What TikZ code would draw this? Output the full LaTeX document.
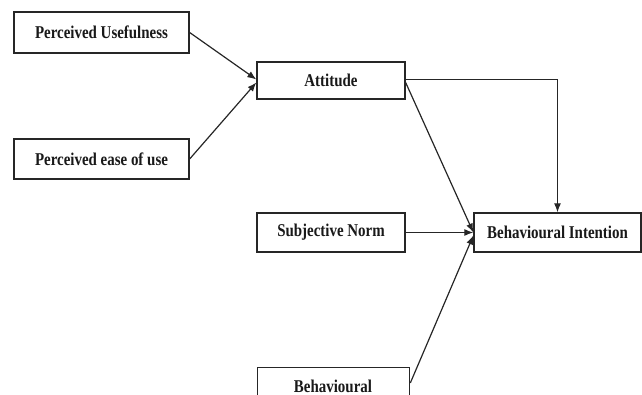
\documentclass[tikz,border=0pt]{standalone}
\usepackage{fontspec}
\setmainfont{Liberation Serif}[FakeStretch=0.83]
\usetikzlibrary{arrows.meta,calc}
\tikzset{
  box/.style={draw=black!85, line width=1.3pt, fill=white, inner sep=0pt},
  lbl/.style={font=\fontsize{18}{20}\selectfont\bfseries, text=black!90},
  conn/.style={draw=black!85, line width=1.2pt},
  arr/.style={conn, -{Latex[length=9pt,width=7pt]}}
}
\begin{document}
\begin{tikzpicture}[x=1pt,y=-1pt]
\useasboundingbox (0,0) rectangle (642,395);
\clip (0,0) rectangle (642,395);
\node[box, minimum width=175pt, minimum height=41pt] (pu) at (101.5,32.5) {};
\node[lbl] at (pu) {Perceived Usefulness};
\node[box, minimum width=175pt, minimum height=40pt] (peu) at (101.5,159) {};
\node[lbl] at (peu) {Perceived ease of use};
\node[box, minimum width=148pt, minimum height=37pt] (att) at (331,80.5) {};
\node[lbl] at (att) {Attitude};
\node[box, minimum width=148pt, minimum height=39pt] (sn) at (331,232.5) {};
\node[lbl] at (sn) {Subjective Norm};
\node[box, minimum width=167pt, minimum height=39pt] (bi) at (557.5,232.5) {};
\node[lbl] at (bi) {Behavioural Intention};
\node[box, anchor=north west, minimum width=152pt, minimum height=60pt] (beh) at (257,367) {};
\node[lbl] at (333,386) {Behavioural};
% connectors
\draw[arr] (pu.east) -- ($(att.west)+(0,-1)$);
\draw[arr] (peu.east) -- ($(att.west)+(0,2)$);
\draw[arr] ($(att.east)+(0,-1)$) -| (bi.north);
\draw[arr] ($(att.east)+(0,2)$) -- ($(bi.west)+(0,0)$);
\draw[arr] (sn.east) -- (bi.west);
\draw[arr] ($(beh.north east)+(0,16)$) -- ($(bi.west)+(0,3)$);
\end{tikzpicture}
\end{document}
